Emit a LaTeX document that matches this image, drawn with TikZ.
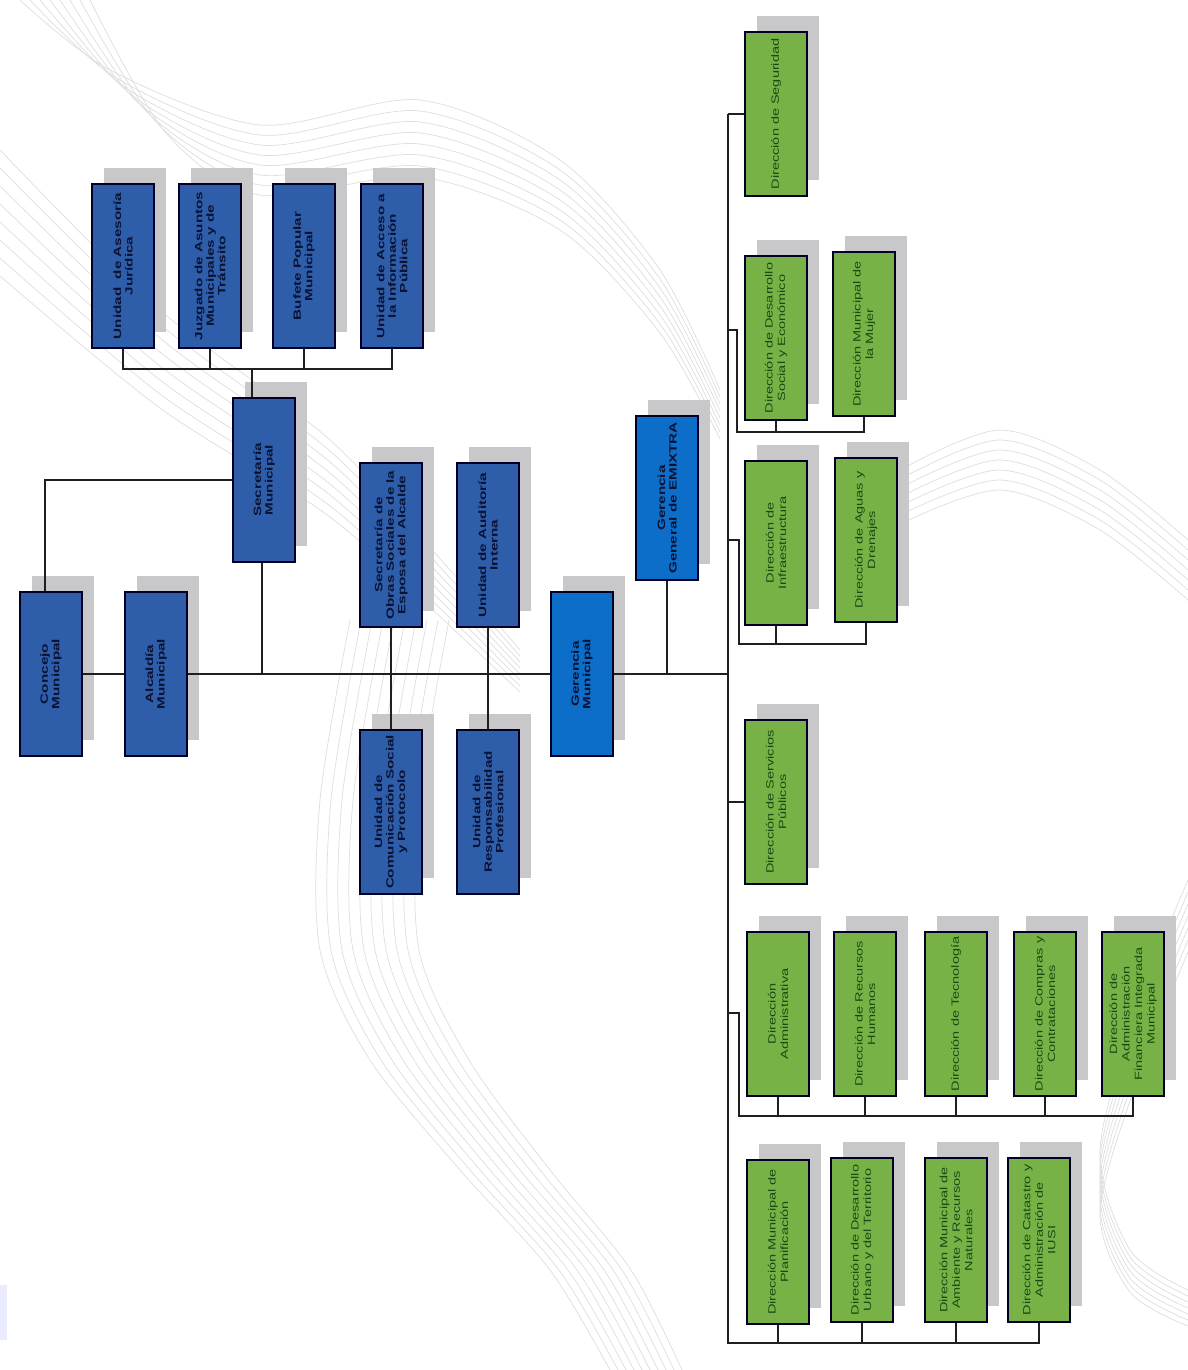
\documentclass[tikz,border=0pt]{standalone}
\usepackage{graphicx}
\usepackage{fontspec}
\setmainfont{Liberation Sans}
\newfontfamily\bluefont[FakeStretch=1.45]{Liberation Sans}
\newfontfamily\greenfont[FakeStretch=1.38]{Liberation Sans}
\usetikzlibrary{shadows}
\definecolor{boxblue}{RGB}{46,94,170}
\definecolor{boxlblue}{RGB}{12,110,200}
\definecolor{boxgreen}{RGB}{120,178,70}
\definecolor{bluetext}{RGB}{10,18,52}
\definecolor{greentext}{RGB}{20,76,18}
\definecolor{shadowgray}{RGB}{200,200,202}
\definecolor{ctrgray}{RGB}{222,222,226}
\newcommand\vt[1]{\rotatebox{90}{\parbox{160pt}{\centering #1}}}
\tikzset{
  orgbox/.style={draw=black!85!blue, line width=1.6pt, minimum width=62pt,
    minimum height=164pt, inner sep=0pt, anchor=center,
    drop shadow={shadow xshift=12pt, shadow yshift=16pt, opacity=1, fill=shadowgray, draw=none}},
  bbox/.style={orgbox, fill=boxblue, text=bluetext,
    font=\bluefont\bfseries\fontsize{10.5}{11.5}\selectfont},
  lbbox/.style={bbox, fill=boxlblue},
  gbox/.style={orgbox, fill=boxgreen, text=greentext,
    font=\greenfont\fontsize{10.5}{12.5}\selectfont},
  conn/.style={line width=2pt, draw=black!88},
  ctr/.style={draw=ctrgray, line width=0.7pt}
}
\begin{document}
\begin{tikzpicture}[x=1pt,y=-1pt]
\useasboundingbox (0,0) rectangle (1188,1370);
\fill[white] (0,0) rectangle (1188,1370);
% background contour lines
\foreach \k in {0,...,7}
  \draw[ctr] plot[smooth] coordinates {({20+10*\k},0) ({110+8*\k},{70+9*\k}) (260,{125+10*\k}) (420,{100+11*\k}) (560,{160+10*\k}) (660,{270+9*\k}) (720,{390+7*\k})};
\foreach \k in {0,...,7}
  \draw[ctr] plot[smooth] coordinates {(0,{150+18*\k}) (160,{310+14*\k}) (330,{440+11*\k}) (450,{570+8*\k}) (520,{650+6*\k})};
\foreach \k in {0,...,9}
  \draw[ctr] plot[smooth] coordinates {({350+11*\k},620) ({320+11*\k},800) ({320+11*\k},950) ({370+11*\k},1060) ({460+10*\k},1170) ({550+9*\k},1270) ({610+8*\k},1370)};
\foreach \k in {0,...,6}
  \draw[ctr] plot[smooth] coordinates {(900,{470+9*\k}) (1000,{430+10*\k}) (1100,{470+10*\k}) (1188,{540+10*\k})};
\foreach \k in {0,...,6}
  \draw[ctr] plot[smooth] coordinates {(1188,{880+12*\k}) (1140,{1000+12*\k}) (1100,{1150+10*\k}) (1130,{1250+7*\k}) (1188,{1290+6*\k})};
\fill[blue!8] (0,1285) rectangle (7,1340);

% blue boxes, top row
\node[bbox] (aj) at (123,266) {\vt{Unidad\ \ de Asesoría\\Jurídica}};
\node[bbox] (jz) at (210,266) {\vt{Juzgado de Asuntos\\Municipales y de\\Tránsito}};
\node[bbox] (bp) at (304,266) {\vt{Bufete Popular\\Municipal}};
\node[bbox] (ai) at (392,266) {\vt{Unidad de Acceso a\\la Información\\Pública}};
\node[bbox] (sm) at (264,480) {\vt{Secretaría\\Municipal}};
\node[bbox] (cm) at (51,674) {\vt{Concejo\\Municipal}};
\node[bbox] (am) at (156,674) {\vt{Alcaldía\\Municipal}};
\node[bbox] (os) at (391,545) {\vt{Secretaría de\\Obras Sociales de la\\Esposa del Alcalde}};
\node[bbox] (ua) at (488,545) {\vt{Unidad de Auditoría\\Interna}};
\node[bbox] (cs) at (391,812) {\vt{Unidad de\\Comunicación Social\\y Protocolo}};
\node[bbox] (rp) at (488,812) {\vt{Unidad de\\Responsabilidad\\Profesional}};
\node[lbbox] (gm) at (582,674) {\vt{Gerencia\\Municipal}};
\node[lbbox] (ge) at (667,498) {\vt{Gerencia\\General de EMIXTRA}};

% green boxes
\node[gbox] (ds) at (776,114) {\vt{Dirección de Seguridad}};
\node[gbox] (dd) at (776,338) {\vt{Dirección de Desarrollo\\Social y Económico}};
\node[gbox] (dm) at (864,334) {\vt{Dirección Municipal de\\la Mujer}};
\node[gbox] (di) at (776,543) {\vt{Dirección de\\Infraestructura}};
\node[gbox] (da) at (866,540) {\vt{Dirección de Aguas y\\Drenajes}};
\node[gbox] (sp) at (776,802) {\vt{Dirección de Servicios\\Públicos}};
\node[gbox] (dad) at (778,1014) {\vt{Dirección\\Administrativa}};
\node[gbox] (rh) at (865,1014) {\vt{Dirección de Recursos\\Humanos}};
\node[gbox] (te) at (956,1014) {\vt{Dirección de Tecnología}};
\node[gbox] (cc) at (1045,1014) {\vt{Dirección de Compras y\\Contrataciones}};
\node[gbox] (af) at (1133,1014) {\vt{Dirección de\\Administración\\Financiera Integrada\\Municipal}};
\node[gbox] (pl) at (778,1242) {\vt{Dirección Municipal de\\Planificación}};
\node[gbox] (du) at (862,1240) {\vt{Dirección de Desarrollo\\Urbano y del Territorio}};
\node[gbox] (ma) at (956,1240) {\vt{Dirección Municipal de\\Ambiente y Recursos\\Naturales}};
\node[gbox] (ca) at (1039,1240) {\vt{Dirección de Catastro y\\Administración de\\IUSI}};

% junction coordinates
\coordinate (tbar) at (252,369);
\coordinate (mvtop) at (728,114);
\coordinate (mvbot) at (728,1343);
\coordinate (j2) at (728,330);
\coordinate (b2) at (737,432);
\coordinate (j3) at (728,540);
\coordinate (b3) at (739,644);
\coordinate (j4) at (728,1013);
\coordinate (b4) at (739,1116);

% connectors, left part
\draw[conn] (aj.south) |- (ai.south |- tbar) -- (ai.south);
\draw[conn] (jz.south) -- (jz.south |- tbar);
\draw[conn] (bp.south) -- (bp.south |- tbar);
\draw[conn] ([xshift=-12pt]sm.north) -- ([xshift=-12pt]sm.north |- tbar);
\draw[conn] (sm.west) -| ([xshift=-6pt]cm.north);
\draw[conn] (cm.east) -- (am.west);
\draw[conn] (am.east) -- (gm.west);
\draw[conn] ([xshift=-2pt]sm.south) -- ([xshift=-2pt]sm.south |- am.east);
\draw[conn] (os.south) -- (cs.north);
\draw[conn] (ua.south) -- (rp.north);
\draw[conn] (gm.east) -- (gm.east -| mvtop);
\draw[conn] (ge.south) -- (ge.south |- gm.east);

% connectors, right part
\draw[conn] (mvtop) -- (mvbot) -| (ca.south);
\draw[conn] (mvtop) -- (ds.west);
\draw[conn] (j2) -| (b2) -| (dm.south);
\draw[conn] (dd.south) -- (dd.south |- b2);
\draw[conn] (j3) -| (b3) -| (da.south);
\draw[conn] (di.south) -- (di.south |- b3);
\draw[conn] (sp.west -| mvtop) -- (sp.west);
\draw[conn] (j4) -| (b4) -| (af.south);
\draw[conn] (dad.south) -- (dad.south |- b4);
\draw[conn] (rh.south) -- (rh.south |- b4);
\draw[conn] (te.south) -- (te.south |- b4);
\draw[conn] (cc.south) -- (cc.south |- b4);
\draw[conn] (pl.south) -- (pl.south |- mvbot);
\draw[conn] (du.south) -- (du.south |- mvbot);
\draw[conn] (ma.south) -- (ma.south |- mvbot);
\end{tikzpicture}
\end{document}
